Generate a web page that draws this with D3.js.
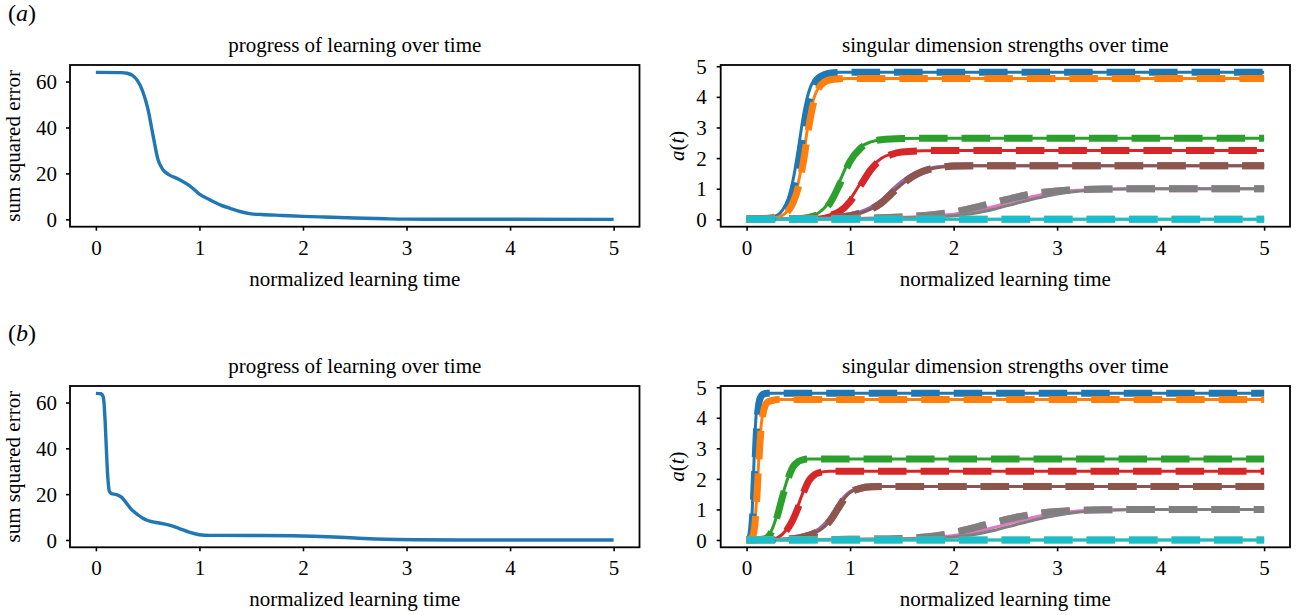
<!DOCTYPE html>
<html>
<head>
<meta charset="utf-8">
<script src="https://cdn.jsdelivr.net/npm/d3@7"></script>
<style>
  body { margin: 0; background: #fff; }
  svg { display: block; font-family: "Liberation Serif", "Times New Roman", serif; }
</style>
</head>
<body>
<svg id="fig" width="1299" height="615"></svg>
<script>
var colors = ["#1f77b4", "#ff7f0e", "#2ca02c", "#d62728", "#9467bd", "#8c564b", "#e377c2", "#7f7f7f", "#bcbd22", "#17becf"]
var xTicks = [0, 1, 2, 3, 4, 5]
var sseTicks = [0, 20, 40, 60]
var strengthTicks = [0, 1, 2, 3, 4, 5]

// (a) sum squared error, [time, value]
var sseA = [[0,64],[0.25,63.9],[0.3,63.6],[0.35,62.8],[0.4,60.5],[0.45,56],[0.5,48.5],[0.55,37],[0.6,26],[0.65,21.5],[0.7,19.6],[0.8,17.5],[0.9,14.8],[1.0,11],[1.1,8.5],[1.2,6.3],[1.3,4.7],[1.4,3.3],[1.5,2.4],[1.6,2.1],[1.8,1.7],[2.0,1.3],[2.2,1.0],[2.5,0.6],[2.8,0.25],[3.0,0.1],[3.5,0.02],[5,0]]
// (b) sum squared error
var sseB = [[0,64],[0.05,63.8],[0.07,62.5],[0.08,59],[0.09,51],[0.1,41],[0.11,31],[0.12,24.5],[0.13,21.3],[0.15,20.2],[0.2,19.8],[0.25,18.6],[0.3,15.8],[0.35,13],[0.4,11.2],[0.45,9.6],[0.5,8.5],[0.55,7.9],[0.6,7.5],[0.7,6.6],[0.8,5.1],[0.9,3.4],[1.0,2.3],[1.1,2.0],[1.5,1.95],[1.9,1.85],[2.1,1.65],[2.3,1.3],[2.5,0.85],[2.7,0.45],[2.9,0.2],[3.1,0.07],[3.5,0.01],[5,0]]

// (a) singular dimension strengths: simulation (solid) and theory (dashed)
var simA = [
  [[0,0.01],[0.2,0.04],[0.3,0.14],[0.35,0.32],[0.4,0.65],[0.45,1.3],[0.5,2.3],[0.55,3.4],[0.6,4.15],[0.65,4.55],[0.7,4.7],[0.8,4.78],[0.9,4.8],[5,4.8]],
  [[0,0.01],[0.3,0.07],[0.4,0.3],[0.45,0.62],[0.5,1.2],[0.55,2.1],[0.6,3.2],[0.65,3.95],[0.7,4.33],[0.75,4.49],[0.8,4.55],[0.9,4.59],[1.0,4.6],[5,4.6]],
  [[0,0.005],[0.5,0.03],[0.6,0.08],[0.7,0.22],[0.8,0.58],[0.9,1.25],[1.0,1.98],[1.1,2.36],[1.2,2.53],[1.3,2.6],[1.5,2.64],[1.8,2.65],[5,2.65]],
  [[0,0.005],[0.6,0.04],[0.8,0.14],[0.9,0.3],[1.0,0.65],[1.1,1.18],[1.2,1.68],[1.3,1.99],[1.4,2.13],[1.5,2.2],[1.7,2.24],[2.0,2.25],[5,2.25]],
  [[0,0.005],[0.8,0.06],[1.0,0.15],[1.1,0.25],[1.2,0.4],[1.3,0.63],[1.4,0.95],[1.5,1.25],[1.6,1.47],[1.7,1.61],[1.8,1.69],[1.9,1.73],[2.0,1.75],[5,1.75]],
  [[0,0.005],[0.8,0.05],[1.0,0.12],[1.1,0.2],[1.2,0.33],[1.3,0.53],[1.4,0.84],[1.5,1.14],[1.6,1.39],[1.7,1.56],[1.8,1.66],[1.9,1.71],[2.0,1.74],[2.2,1.75],[5,1.75]],
  [[0,0.005],[1.0,0.03],[1.5,0.07],[1.8,0.12],[2.0,0.17],[2.2,0.28],[2.4,0.43],[2.6,0.61],[2.8,0.77],[3.0,0.89],[3.2,0.95],[3.5,0.99],[4.0,1.0],[5,1.0]],
  [[0,0.005],[1.0,0.02],[1.5,0.05],[1.8,0.08],[2.0,0.12],[2.2,0.2],[2.4,0.34],[2.6,0.52],[2.8,0.69],[3.0,0.83],[3.2,0.92],[3.4,0.97],[3.6,0.99],[4.0,1.0],[5,1.0]],
  [[0,0],[5,0]],
  [[0,0],[5,0]]
]
var theoryA = [
  [[0,0.01],[0.2,0.03],[0.3,0.1],[0.35,0.22],[0.4,0.45],[0.45,0.95],[0.5,1.75],[0.55,2.85],[0.6,3.8],[0.65,4.35],[0.7,4.62],[0.75,4.72],[0.8,4.77],[0.9,4.8],[5,4.8]],
  [[0,0.01],[0.3,0.06],[0.4,0.27],[0.45,0.55],[0.5,1.05],[0.55,1.9],[0.6,3.0],[0.65,3.85],[0.7,4.3],[0.75,4.48],[0.8,4.55],[0.9,4.59],[1.0,4.6],[5,4.6]],
  [[0,0.005],[0.5,0.02],[0.6,0.06],[0.7,0.18],[0.8,0.5],[0.9,1.15],[1.0,1.9],[1.1,2.32],[1.2,2.52],[1.3,2.6],[1.5,2.64],[1.8,2.65],[5,2.65]],
  [[0,0.005],[0.6,0.03],[0.8,0.12],[0.9,0.26],[1.0,0.58],[1.1,1.1],[1.2,1.62],[1.3,1.96],[1.4,2.12],[1.5,2.2],[1.7,2.24],[2.0,2.25],[5,2.25]],
  [[0,0.005],[0.8,0.05],[1.0,0.12],[1.1,0.2],[1.2,0.33],[1.3,0.53],[1.4,0.84],[1.5,1.14],[1.6,1.39],[1.7,1.56],[1.8,1.66],[1.9,1.71],[2.0,1.74],[2.2,1.75],[5,1.75]],
  [[0,0.005],[0.8,0.05],[1.0,0.12],[1.1,0.2],[1.2,0.33],[1.3,0.53],[1.4,0.84],[1.5,1.14],[1.6,1.39],[1.7,1.56],[1.8,1.66],[1.9,1.71],[2.0,1.74],[2.2,1.75],[5,1.75]],
  [[0,0.005],[1.0,0.03],[1.5,0.08],[1.8,0.15],[2.0,0.24],[2.2,0.38],[2.4,0.55],[2.6,0.72],[2.8,0.85],[3.0,0.93],[3.2,0.97],[3.5,0.99],[4.0,1.0],[5,1.0]],
  [[0,0.005],[1.0,0.03],[1.5,0.08],[1.8,0.15],[2.0,0.24],[2.2,0.38],[2.4,0.55],[2.6,0.72],[2.8,0.85],[3.0,0.93],[3.2,0.97],[3.5,0.99],[4.0,1.0],[5,1.0]],
  [[0,0],[5,0]],
  [[0,0],[5,0]]
]

// (b)
var simB = [
  [[0,0.01],[0.03,0.08],[0.045,0.4],[0.055,1.0],[0.065,1.9],[0.075,2.9],[0.085,3.7],[0.095,4.2],[0.11,4.55],[0.13,4.72],[0.16,4.78],[0.2,4.8],[5,4.8]],
  [[0,0.01],[0.05,0.06],[0.07,0.28],[0.08,0.55],[0.09,0.98],[0.1,1.55],[0.11,2.15],[0.12,2.75],[0.13,3.3],[0.14,3.72],[0.15,4.0],[0.17,4.32],[0.2,4.5],[0.25,4.57],[0.3,4.6],[5,4.6]],
  [[0,0.005],[0.15,0.03],[0.2,0.1],[0.25,0.38],[0.3,0.88],[0.35,1.5],[0.4,2.04],[0.45,2.42],[0.5,2.58],[0.55,2.63],[0.6,2.65],[5,2.65]],
  [[0,0.005],[0.25,0.03],[0.3,0.08],[0.35,0.2],[0.4,0.42],[0.45,0.74],[0.5,1.15],[0.55,1.6],[0.6,1.95],[0.65,2.13],[0.7,2.2],[0.8,2.25],[5,2.25]],
  [[0,0.005],[0.4,0.04],[0.5,0.09],[0.6,0.19],[0.7,0.37],[0.75,0.52],[0.8,0.72],[0.85,0.98],[0.9,1.24],[0.95,1.45],[1.0,1.59],[1.1,1.71],[1.2,1.74],[1.3,1.75],[5,1.75]],
  [[0,0.005],[0.4,0.03],[0.5,0.07],[0.6,0.15],[0.7,0.3],[0.75,0.43],[0.8,0.6],[0.85,0.85],[0.9,1.12],[0.95,1.38],[1.0,1.55],[1.1,1.69],[1.2,1.74],[1.3,1.75],[5,1.75]],
  [[0,0.005],[1.5,0.04],[1.8,0.09],[2.0,0.15],[2.2,0.26],[2.4,0.42],[2.6,0.6],[2.8,0.76],[3.0,0.88],[3.2,0.95],[3.5,0.99],[4.0,1.0],[5,1.0]],
  [[0,0.005],[1.5,0.03],[1.8,0.06],[2.0,0.1],[2.2,0.18],[2.4,0.32],[2.6,0.5],[2.8,0.67],[3.0,0.81],[3.2,0.91],[3.4,0.96],[3.7,0.99],[4.0,1.0],[5,1.0]],
  [[0,0],[5,0]],
  [[0,0],[5,0]]
]
var theoryB = [
  [[0,0.01],[0.03,0.05],[0.05,0.4],[0.06,0.9],[0.07,1.6],[0.08,2.4],[0.09,3.2],[0.1,3.85],[0.11,4.25],[0.12,4.5],[0.14,4.7],[0.16,4.77],[0.2,4.8],[5,4.8]],
  [[0,0.01],[0.05,0.05],[0.07,0.25],[0.08,0.5],[0.09,0.9],[0.1,1.45],[0.11,2.05],[0.12,2.65],[0.13,3.2],[0.14,3.65],[0.15,3.95],[0.17,4.3],[0.2,4.5],[0.25,4.57],[0.3,4.6],[5,4.6]],
  [[0,0.005],[0.15,0.02],[0.2,0.08],[0.25,0.33],[0.3,0.82],[0.35,1.45],[0.4,2.0],[0.45,2.4],[0.5,2.57],[0.55,2.63],[0.6,2.65],[5,2.65]],
  [[0,0.005],[0.25,0.02],[0.3,0.07],[0.35,0.18],[0.4,0.38],[0.45,0.68],[0.5,1.08],[0.55,1.55],[0.6,1.93],[0.65,2.12],[0.7,2.2],[0.8,2.25],[5,2.25]],
  [[0,0.005],[0.4,0.03],[0.5,0.07],[0.6,0.15],[0.7,0.3],[0.75,0.43],[0.8,0.6],[0.85,0.85],[0.9,1.12],[0.95,1.38],[1.0,1.55],[1.1,1.69],[1.2,1.74],[1.3,1.75],[5,1.75]],
  [[0,0.005],[0.4,0.03],[0.5,0.07],[0.6,0.15],[0.7,0.3],[0.75,0.43],[0.8,0.6],[0.85,0.85],[0.9,1.12],[0.95,1.38],[1.0,1.55],[1.1,1.69],[1.2,1.74],[1.3,1.75],[5,1.75]],
  [[0,0.005],[1.0,0.02],[1.5,0.05],[1.8,0.12],[2.0,0.24],[2.2,0.4],[2.4,0.58],[2.6,0.74],[2.8,0.86],[3.0,0.93],[3.2,0.97],[3.5,0.99],[4.0,1.0],[5,1.0]],
  [[0,0.005],[1.0,0.02],[1.5,0.05],[1.8,0.12],[2.0,0.24],[2.2,0.4],[2.4,0.58],[2.6,0.74],[2.8,0.86],[3.0,0.93],[3.2,0.97],[3.5,0.99],[4.0,1.0],[5,1.0]],
  [[0,0],[5,0]],
  [[0,0],[5,0]]
]

var svg = d3.select("#fig")
svg.append("rect").attr("width", 1299).attr("height", 615).attr("fill", "#fff")

var fs = 21
var ink = "#000"
var clipId = 0

function panel(box, yDomain, yTicks, title, ylabel, draw) {
    var x = d3.scaleLinear().domain([-0.25, 5.25]).range([box.x0, box.x1])
    var y = d3.scaleLinear().domain(yDomain).range([box.y1, box.y0])
    var g = svg.append("g")

    var id = "clip" + (clipId++)
    svg.append("clipPath").attr("id", id)
        .append("rect")
        .attr("x", box.x0).attr("y", box.y0)
        .attr("width", box.x1 - box.x0).attr("height", box.y1 - box.y0)

    var plot = g.append("g").attr("clip-path", "url(#" + id + ")")
    draw(plot, x, y)

    var xa = g.append("g")
        .attr("transform", "translate(0," + box.y1 + ")")
        .call(d3.axisBottom(x).tickValues(xTicks).tickSize(4).tickPadding(9).tickFormat(d3.format("d")))
    var ya = g.append("g")
        .attr("transform", "translate(" + box.x0 + ",0)")
        .call(d3.axisLeft(y).tickValues(yTicks).tickSize(4).tickPadding(box.ypad).tickFormat(d3.format("d")))
    ;[xa, ya].forEach(a => {
        a.select(".domain").remove()
        a.selectAll("line").attr("stroke", "#000").attr("stroke-width", 1.6)
        a.selectAll("text").attr("fill", ink).style("font-size", fs + "px")
            .style("font-family", "'Liberation Serif', 'Times New Roman', serif")
    })
    ya.selectAll("text").attr("dy", "0.34em")

    g.append("rect")
        .attr("x", box.x0).attr("y", box.y0)
        .attr("width", box.x1 - box.x0).attr("height", box.y1 - box.y0)
        .attr("fill", "none").attr("stroke", "#000").attr("stroke-width", 1.8)

    var cx = (box.x0 + box.x1) / 2
    g.append("text").attr("x", cx).attr("y", box.y0 - 13)
        .attr("text-anchor", "middle").style("font-size", fs + "px").attr("fill", ink)
        .text(title)
    g.append("text").attr("x", cx).attr("y", box.y1 + 59)
        .attr("text-anchor", "middle").style("font-size", fs + "px").attr("fill", ink)
        .text("normalized learning time")

    var yl = g.append("text")
        .attr("transform", "translate(" + box.ylx + "," + ((box.y0 + box.y1) / 2) + ") rotate(-90)")
        .attr("text-anchor", "middle").style("font-size", fs + "px").attr("fill", ink)
    ylabel(yl)
}

function ssePanel(box, data) {
    panel(box, [-3.2, 67.2], sseTicks, "progress of learning over time",
        t => t.text("sum squared error"),
        function(plot, x, y) {
            var line = d3.line().x(d => x(d[0])).y(d => y(d[1])).curve(d3.curveMonotoneX)
            plot.append("path").datum(data)
                .attr("d", line)
                .attr("fill", "none").attr("stroke", colors[0])
                .attr("stroke-width", 3.4).attr("stroke-linecap", "butt")
        })
}

function strengthPanel(box, sim, theory) {
    panel(box, [-0.24, 5.04], strengthTicks, "singular dimension strengths over time",
        function(t) {
            t.append("tspan").style("font-style", "italic").text("a")
            t.append("tspan").text("(")
            t.append("tspan").style("font-style", "italic").text("t")
            t.append("tspan").text(")")
        },
        function(plot, x, y) {
            var line = d3.line().x(d => x(d[0])).y(d => y(d[1])).curve(d3.curveMonotoneX)
            plot.selectAll(".sim").data(sim).enter().append("path")
                .attr("class", "sim")
                .attr("d", line)
                .attr("fill", "none").attr("stroke", (d, i) => colors[i])
                .attr("stroke-width", 3)
            plot.selectAll(".theory").data(theory).enter().append("path")
                .attr("class", "theory")
                .attr("d", line)
                .attr("fill", "none").attr("stroke", (d, i) => colors[i])
                .attr("stroke-width", 7).attr("stroke-dasharray", "28.5,14")
        })
}

var leftTop = {x0: 70, x1: 639.5, y0: 65, y1: 226.7, ypad: 9, ylx: 20}
var rightTop = {x0: 720.7, x1: 1290, y0: 65, y1: 226.7, ypad: 10, ylx: 684}
var leftBot = {x0: 70, x1: 639.5, y0: 386, y1: 547.3, ypad: 9, ylx: 20}
var rightBot = {x0: 720.7, x1: 1290, y0: 386, y1: 547.3, ypad: 10, ylx: 684}

ssePanel(leftTop, sseA)
strengthPanel(rightTop, simA, theoryA)
ssePanel(leftBot, sseB)
strengthPanel(rightBot, simB, theoryB)

function tag(letter, yb) {
    var t = svg.append("text").attr("x", 8).attr("y", yb).style("font-size", "24px").attr("fill", ink)
    t.append("tspan").text("(")
    t.append("tspan").style("font-style", "italic").text(letter)
    t.append("tspan").text(")")
}
tag("a", 20.5)
tag("b", 340.5)
</script>
</body>
</html>
